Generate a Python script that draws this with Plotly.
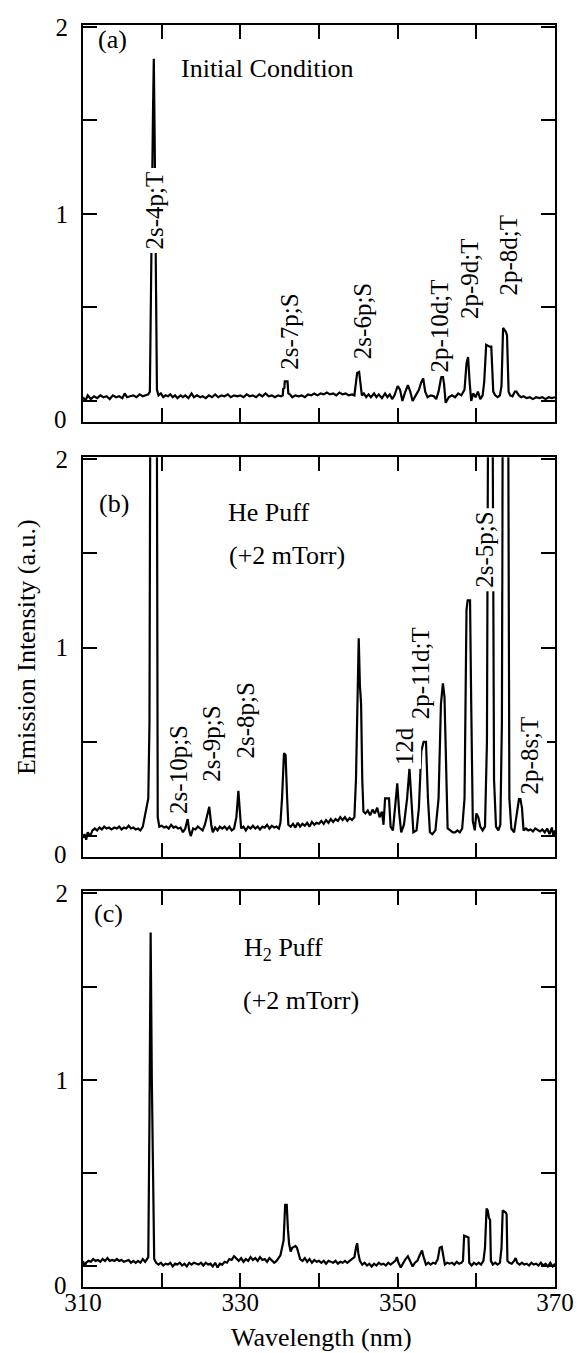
import plotly.graph_objects as go

# ---------------- data (wavelength nm, intensity a.u.) ----------------
spec_a = [
    (310.0, 0.02), (310.3, 0.00), (310.6, 0.03), (311.0, 0.01), (311.4, 0.025), (311.8, 0.015),
    (312.2, 0.03), (312.6, 0.02), (313.0, 0.025), (313.4, 0.01), (313.8, 0.03), (314.2, 0.02),
    (314.6, 0.025), (315.0, 0.015), (315.3, 0.04), (315.6, 0.02), (316.0, 0.025), (316.4, 0.03),
    (316.8, 0.02), (317.2, 0.035), (317.6, 0.025), (318.0, 0.03), (318.3, 0.035), (318.5, 0.05),
    (318.65, 0.5), (318.75, 1.0), (318.9, 1.55), (319.0, 1.83), (319.1, 1.45), (319.2, 0.9),
    (319.3, 0.4), (319.4, 0.06), (319.6, 0.03), (319.9, 0.04), (320.2, 0.02), (320.5, 0.03),
    (320.8, 0.025), (321.1, 0.035), (321.4, 0.02), (321.7, 0.03), (322.0, 0.015), (322.4, 0.03),
    (322.7, 0.02), (323.0, 0.03), (323.4, 0.015), (323.8, 0.04), (324.1, 0.02), (324.5, 0.03),
    (324.9, 0.02), (325.2, 0.025), (325.6, 0.015), (326.0, 0.03), (326.4, 0.02), (326.8, 0.035),
    (327.2, 0.02), (327.6, 0.03), (328.0, 0.025), (328.4, 0.035), (328.8, 0.02), (329.2, 0.03),
    (329.6, 0.025), (330.0, 0.03), (330.4, 0.02), (330.8, 0.035), (331.2, 0.025), (331.6, 0.03),
    (332.0, 0.02), (332.4, 0.035), (332.8, 0.025), (333.2, 0.04), (333.6, 0.025), (334.0, 0.03),
    (334.4, 0.02), (334.8, 0.03), (335.2, 0.025), (335.4, 0.03), (335.45, 0.065), (335.6, 0.07),
    (335.65, 0.105), (336.0, 0.105), (336.1, 0.04), (336.3, 0.035), (336.6, 0.02), (337.0, 0.03),
    (337.4, 0.025), (337.8, 0.03), (338.2, 0.02), (338.6, 0.035), (339.0, 0.03), (339.4, 0.04),
    (339.8, 0.03), (340.2, 0.04), (340.6, 0.035), (341.0, 0.045), (341.4, 0.035), (341.8, 0.04),
    (342.2, 0.03), (342.6, 0.045), (343.0, 0.035), (343.4, 0.04), (343.8, 0.03), (344.2, 0.035),
    (344.5, 0.03), (344.7, 0.1), (344.85, 0.15), (345.1, 0.155), (345.3, 0.08), (345.45, 0.03),
    (345.7, 0.04), (346.0, 0.02), (346.3, 0.035), (346.6, 0.02), (347.0, 0.04), (347.3, 0.02),
    (347.6, 0.035), (348.0, 0.015), (348.4, 0.04), (348.7, 0.02), (349.0, 0.035), (349.3, 0.01),
    (349.6, 0.03), (350.0, 0.08), (350.3, 0.06), (350.6, 0.0), (350.9, 0.04), (351.3, 0.085),
    (351.6, 0.05), (351.9, 0.0), (352.3, 0.03), (352.7, 0.06), (353.0, 0.1), (353.25, 0.12),
    (353.5, 0.05), (353.8, 0.02), (354.2, 0.03), (354.6, 0.025), (354.9, 0.01), (355.2, 0.05),
    (355.5, 0.12), (355.7, 0.145), (355.9, 0.09), (356.1, -0.01), (356.5, 0.02), (356.9, 0.03),
    (357.3, 0.02), (357.7, 0.04), (358.1, 0.03), (358.5, 0.06), (358.75, 0.2), (358.95, 0.235),
    (359.15, 0.1), (359.35, 0.0), (359.6, 0.04), (359.9, 0.02), (360.2, 0.05), (360.5, 0.01),
    (360.8, 0.03), (361.0, 0.1), (361.25, 0.3), (361.4, 0.295), (361.7, 0.29), (361.9, 0.29),
    (362.15, 0.05), (362.4, 0.03), (362.7, 0.02), (363.0, 0.03), (363.2, 0.08), (363.4, 0.39),
    (363.5, 0.385), (363.75, 0.37), (363.9, 0.35), (364.1, 0.05), (364.3, 0.03), (364.6, 0.025),
    (364.9, 0.05), (365.1, 0.05), (365.4, 0.03), (365.7, 0.02), (366.0, 0.025), (366.4, 0.015),
    (366.8, 0.02), (367.2, 0.01), (367.6, 0.02), (368.0, 0.015), (368.4, 0.02), (368.8, 0.01),
    (369.2, 0.02), (369.6, 0.015), (370.0, 0.02),
]

spec_b = [
    (310.0, -0.01), (310.2, 0.01), (310.4, -0.02), (310.6, 0.02), (310.9, 0.0), (311.2, 0.03),
    (311.5, 0.04), (311.8, 0.03), (312.1, 0.045), (312.4, 0.035), (312.7, 0.05), (313.0, 0.04),
    (313.3, 0.045), (313.6, 0.035), (314.0, 0.045), (314.3, 0.04), (314.6, 0.05), (314.9, 0.035),
    (315.2, 0.045), (315.5, 0.04), (315.8, 0.055), (316.1, 0.04), (316.4, 0.045), (316.7, 0.035),
    (317.0, 0.04), (317.3, 0.03), (317.6, 0.05), (317.9, 0.12), (318.1, 0.15), (318.3, 0.2),
    (318.45, 0.6), (318.6, 3.0), (319.35, 3.0), (319.5, 0.1), (319.7, 0.05), (320.0, 0.055),
    (320.3, 0.045), (320.6, 0.05), (320.9, 0.04), (321.2, 0.06), (321.5, 0.045), (321.8, 0.05),
    (322.1, 0.04), (322.4, 0.045), (322.7, 0.02), (323.0, 0.04), (323.3, 0.09), (323.5, 0.03),
    (323.7, 0.0), (324.0, 0.04), (324.3, 0.035), (324.6, 0.05), (324.9, 0.04), (325.2, 0.03),
    (325.5, 0.06), (325.8, 0.12), (326.05, 0.155), (326.3, 0.06), (326.5, 0.02), (326.8, 0.045),
    (327.1, 0.03), (327.4, 0.05), (327.7, 0.04), (328.0, 0.05), (328.3, 0.035), (328.6, 0.05),
    (328.9, 0.03), (329.2, 0.04), (329.5, 0.1), (329.75, 0.24), (329.95, 0.15), (330.1, 0.04),
    (330.4, 0.05), (330.7, 0.03), (331.0, 0.05), (331.3, 0.04), (331.6, 0.055), (331.9, 0.04),
    (332.2, 0.05), (332.5, 0.035), (332.8, 0.05), (333.1, 0.045), (333.4, 0.06), (333.7, 0.04),
    (334.0, 0.055), (334.3, 0.045), (334.6, 0.05), (334.9, 0.04), (335.1, 0.07), (335.3, 0.2),
    (335.55, 0.44), (335.75, 0.43), (335.95, 0.2), (336.1, 0.06), (336.4, 0.05), (336.7, 0.065),
    (337.0, 0.045), (337.3, 0.07), (337.6, 0.05), (337.9, 0.065), (338.2, 0.055), (338.5, 0.07),
    (338.8, 0.05), (339.1, 0.075), (339.4, 0.06), (339.7, 0.07), (340.0, 0.065), (340.3, 0.08),
    (340.6, 0.065), (340.9, 0.085), (341.2, 0.07), (341.5, 0.09), (341.8, 0.075), (342.1, 0.09),
    (342.4, 0.08), (342.7, 0.1), (343.0, 0.085), (343.3, 0.1), (343.6, 0.08), (343.9, 0.095),
    (344.2, 0.085), (344.5, 0.1), (344.7, 0.3), (344.9, 0.8), (345.05, 1.05), (345.2, 0.8),
    (345.35, 0.7), (345.5, 0.3), (345.65, 0.13), (345.9, 0.12), (346.2, 0.135), (346.5, 0.11),
    (346.8, 0.14), (347.1, 0.12), (347.4, 0.15), (347.7, 0.1), (348.0, 0.13), (348.2, 0.06),
    (348.4, 0.2), (348.9, 0.2), (349.1, 0.05), (349.4, 0.03), (349.7, 0.15), (349.95, 0.28),
    (350.2, 0.12), (350.45, 0.02), (350.8, 0.06), (351.2, 0.2), (351.5, 0.36), (351.75, 0.18),
    (352.0, 0.02), (352.4, 0.03), (352.7, 0.15), (353.0, 0.45), (353.3, 0.5), (353.6, 0.5),
    (353.85, 0.2), (354.1, 0.02), (354.4, 0.01), (354.8, 0.03), (355.2, 0.2), (355.5, 0.7),
    (355.75, 0.81), (355.95, 0.74), (356.15, 0.3), (356.35, 0.04), (356.7, 0.03), (357.0, 0.02),
    (357.3, 0.02), (357.6, 0.03), (357.9, 0.02), (358.2, 0.04), (358.5, 0.2), (358.75, 1.2),
    (358.9, 1.25), (359.2, 1.25), (359.35, 0.7), (359.55, 0.08), (359.8, 0.03), (360.0, 0.12),
    (360.25, 0.1), (360.5, 0.05), (360.8, 0.03), (361.1, 0.05), (361.35, 0.5), (361.55, 3.0),
    (362.0, 3.0), (362.25, 0.3), (362.5, 0.05), (362.8, 0.03), (363.05, 0.06), (363.25, 0.6),
    (363.4, 3.0), (364.0, 3.0), (364.2, 0.2), (364.45, 0.04), (364.8, 0.02), (365.1, 0.1),
    (365.5, 0.22), (365.8, 0.15), (366.0, 0.03), (366.3, 0.04), (366.6, 0.03), (366.9, 0.035),
    (367.2, 0.025), (367.5, 0.04), (367.8, 0.03), (368.1, 0.025), (368.4, 0.035), (368.7, 0.02),
    (369.0, 0.04), (369.3, 0.01), (369.6, 0.045), (369.8, 0.0), (370.0, 0.03),
]

spec_c = [
    (310.0, 0.03), (310.2, 0.0), (310.4, 0.02), (310.7, 0.03), (311.0, 0.025), (311.3, 0.04),
    (311.6, 0.03), (311.9, 0.035), (312.2, 0.025), (312.5, 0.04), (312.8, 0.03), (313.1, 0.045),
    (313.4, 0.03), (313.7, 0.035), (314.0, 0.03), (314.3, 0.04), (314.6, 0.03), (314.9, 0.035),
    (315.2, 0.025), (315.5, 0.03), (315.8, 0.035), (316.1, 0.02), (316.4, 0.03), (316.7, 0.02),
    (317.0, 0.03), (317.3, 0.02), (317.6, 0.04), (317.9, 0.025), (318.1, 0.04), (318.3, 0.05),
    (318.45, 0.8), (318.6, 1.79), (318.75, 1.0), (318.9, 0.35), (319.05, 0.04), (319.3, 0.02),
    (319.6, 0.01), (319.9, 0.02), (320.2, 0.005), (320.5, 0.015), (320.8, 0.01), (321.1, 0.02),
    (321.4, 0.0), (321.7, 0.015), (322.0, 0.01), (322.3, 0.02), (322.6, 0.005), (322.9, 0.015),
    (323.2, 0.0), (323.5, 0.02), (323.8, 0.01), (324.1, 0.02), (324.4, 0.015), (324.7, 0.01),
    (325.0, 0.02), (325.3, 0.005), (325.6, 0.02), (325.9, 0.01), (326.2, 0.015), (326.5, 0.0),
    (326.8, 0.02), (327.1, -0.005), (327.4, 0.015), (327.7, 0.01), (328.0, 0.025), (328.3, 0.02),
    (328.6, 0.04), (328.9, 0.035), (329.2, 0.055), (329.5, 0.04), (329.8, 0.03), (330.1, 0.045),
    (330.4, 0.025), (330.7, 0.04), (331.0, 0.03), (331.3, 0.05), (331.6, 0.035), (331.9, 0.045),
    (332.2, 0.03), (332.5, 0.05), (332.8, 0.035), (333.1, 0.04), (333.4, 0.025), (333.7, 0.045),
    (334.0, 0.03), (334.3, 0.02), (334.6, 0.03), (334.9, 0.05), (335.1, 0.06), (335.3, 0.1),
    (335.5, 0.14), (335.7, 0.33), (335.9, 0.33), (336.05, 0.2), (336.2, 0.12), (336.4, 0.08),
    (336.6, 0.1), (336.8, 0.105), (337.0, 0.11), (337.2, 0.1), (337.4, 0.07), (337.6, 0.04),
    (337.9, 0.03), (338.2, 0.045), (338.5, 0.025), (338.8, 0.04), (339.1, 0.02), (339.4, 0.035),
    (339.7, 0.025), (340.0, 0.03), (340.3, 0.02), (340.6, 0.03), (340.9, 0.015), (341.2, 0.03),
    (341.5, 0.025), (341.8, 0.02), (342.1, 0.03), (342.4, 0.015), (342.7, 0.025), (343.0, 0.02),
    (343.3, 0.03), (343.6, 0.02), (343.9, 0.03), (344.2, 0.04), (344.5, 0.05), (344.7, 0.1),
    (344.85, 0.125), (345.0, 0.07), (345.2, 0.03), (345.5, 0.01), (345.8, 0.02), (346.1, 0.005),
    (346.4, 0.015), (346.7, 0.0), (347.0, 0.015), (347.3, 0.005), (347.6, 0.02), (347.9, 0.01),
    (348.2, 0.015), (348.5, 0.005), (348.8, 0.02), (349.1, 0.01), (349.4, 0.02), (349.7, 0.03),
    (349.9, 0.05), (350.1, 0.02), (350.4, -0.005), (350.7, 0.02), (351.0, 0.04), (351.3, 0.055),
    (351.6, 0.03), (351.9, 0.0), (352.2, 0.02), (352.5, 0.03), (352.8, 0.06), (353.1, 0.085),
    (353.3, 0.05), (353.6, 0.01), (353.9, 0.02), (354.2, 0.01), (354.5, 0.02), (354.8, 0.015),
    (355.1, 0.04), (355.35, 0.1), (355.6, 0.105), (355.8, 0.05), (356.0, 0.01), (356.3, 0.02),
    (356.6, 0.015), (356.9, 0.02), (357.2, 0.01), (357.5, 0.025), (357.8, 0.015), (358.1, 0.02),
    (358.3, 0.03), (358.45, 0.165), (358.8, 0.16), (359.0, 0.155), (359.1, 0.02), (359.4, 0.005),
    (359.7, 0.02), (360.0, 0.01), (360.3, 0.02), (360.6, 0.01), (360.9, 0.03), (361.1, 0.1),
    (361.3, 0.31), (361.45, 0.3), (361.6, 0.26), (361.75, 0.25), (361.85, 0.03), (362.1, 0.01),
    (362.4, 0.02), (362.7, 0.01), (363.0, 0.02), (363.2, 0.1), (363.35, 0.3), (363.7, 0.29),
    (363.85, 0.28), (363.95, 0.03), (364.2, 0.02), (364.5, 0.015), (364.8, 0.03), (365.0, 0.045),
    (365.2, 0.02), (365.5, 0.01), (365.8, 0.02), (366.1, 0.01), (366.4, 0.015), (366.7, 0.005),
    (367.0, 0.02), (367.3, 0.01), (367.6, 0.015), (367.9, 0.005), (368.2, 0.02), (368.5, 0.005),
    (368.8, 0.015), (369.1, 0.0), (369.4, 0.02), (369.7, 0.0), (370.0, 0.015),
]

# line labels: (text, wavelength, intensity)
lines_a = [("2s-4p;T", 319.07, 1.02), ("2s-7p;S", 336.25, 0.367), ("2s-6p;S", 345.45, 0.426),
           ("2p-10d;T", 355.3, 0.40), ("2p-9d;T", 359.05, 0.656), ("2p-8d;T", 363.97, 0.78)]
lines_b = [("2s-10p;S", 322.2, 0.356), ("2s-9p;S", 326.4, 0.49), ("2s-8p;S", 330.6, 0.613),
           ("12d", 350.8, 0.476), ("2p-11d;T", 352.9, 0.866), ("2s-5p;S", 361.0, 1.52),
           ("2p-8s;T", 366.75, 0.43)]
lines_c = []

# panel texts: (text, wavelength, intensity)
texts_a = [("(a)", 313.8, 1.935), ("Initial Condition", 333.4, 1.775)]
texts_b = [("(b)", 313.95, 1.765), ("He Puff", 333.6, 1.715), ("(+2 mTorr)", 335.9, 1.487)]
texts_c = [("(c)", 313.25, 1.89), ("H<sub>2</sub> Puff", 335.5, 1.70), ("(+2 mTorr)", 337.7, 1.425)]

x_ticks = [310, 320, 330, 340, 350, 360, 370]
x_ticktext = ["310", "", "330", "", "350", "", "370"]
y_ticks = [0, 0.5, 1, 1.5, 2]
y_ticktext = ["", "", "1", "", "2"]

FONT = "Liberation Serif"

fig = go.Figure()
panels = [(spec_a, lines_a, texts_a, "x", "y"),
          (spec_b, lines_b, texts_b, "x2", "y2"),
          (spec_c, lines_c, texts_c, "x3", "y3")]

annotations = []
for spec, lines, texts, xr, yr in panels:
    wl = [p[0] for p in spec]
    iv = [p[1] for p in spec]
    fig.add_trace(go.Scatter(x=wl, y=iv, mode="lines", xaxis=xr, yaxis=yr,
                             line=dict(color="black", width=2.2), showlegend=False))
    for t, lx, ly in lines:
        annotations.append(dict(text=t, x=lx, y=ly, xref=xr, yref=yr, showarrow=False,
                                textangle=-90, bgcolor="white", borderpad=3,
                                xanchor="center", yanchor="middle",
                                font=dict(family=FONT, size=25, color="black")))
    for t, lx, ly in texts:
        annotations.append(dict(text=t, x=lx, y=ly, xref=xr, yref=yr, showarrow=False,
                                xanchor="center", yanchor="middle",
                                font=dict(family=FONT, size=26, color="black")))
    # "0" label sits at the bottom corner of each frame in the original
    annotations.append(dict(text="0", x=0, y=-0.1, xref=xr + " domain", yref=yr, showarrow=False,
                            xanchor="right", yanchor="middle", xshift=-14,
                            font=dict(family=FONT, size=25, color="black")))

annotations.append(dict(text="Emission Intensity (a.u.)", x=-0.121, y=0.507,
                        xref="paper", yref="paper", xanchor="center", yanchor="middle",
                        showarrow=False, textangle=-90,
                        font=dict(family=FONT, size=26, color="black")))
annotations.append(dict(text="Wavelength (nm)", x=0.506, y=-0.040, xref="paper", yref="paper",
                        xanchor="center", yanchor="middle",
                        showarrow=False, font=dict(family=FONT, size=26, color="black")))

axis_common = dict(showline=True, linecolor="black", linewidth=2, mirror="ticks",
                   ticks="inside", ticklen=14, tickwidth=2, tickcolor="black",
                   showgrid=False, zeroline=False,
                   tickfont=dict(family=FONT, size=25, color="black"))

# page body adds an 8px margin; the figure is sized so the drawing lands where the original's does
domains = {"y": [0.6858, 1.0], "y2": [0.3409, 0.6575], "y3": [0.0, 0.3134]}
layout = dict(width=574, height=1345, plot_bgcolor="white", paper_bgcolor="white",
              margin=dict(l=75, r=27, t=6, b=66), showlegend=False,
              annotations=annotations)
for i, (xn, yn) in enumerate([("xaxis", "yaxis"), ("xaxis2", "yaxis2"), ("xaxis3", "yaxis3")]):
    ykey = "y" if i == 0 else "y%d" % (i + 1)
    xkey = "x" if i == 0 else "x%d" % (i + 1)
    layout[xn] = dict(axis_common, range=[310, 370], anchor=ykey, domain=[0, 1],
                      tickmode="array", tickvals=x_ticks, ticktext=x_ticktext,
                      showticklabels=(i == 2), ticklabelstandoff=-8)
    layout[yn] = dict(axis_common, range=[-0.11, 2.01], anchor=xkey, domain=domains[ykey],
                      tickmode="array", tickvals=y_ticks, ticktext=y_ticktext,
                      ticklabelstandoff=8)

fig.update_layout(**layout)
fig.write_html("out.html")
